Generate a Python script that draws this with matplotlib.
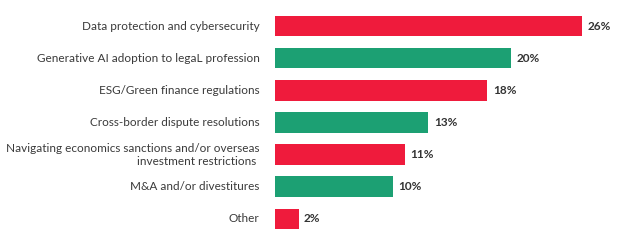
import matplotlib
matplotlib.use("Agg")
import matplotlib.pyplot as plt

categories = [
    "Data protection and cybersecurity",
    "Generative AI adoption to legaL profession",
    "ESG/Green finance regulations",
    "Cross-border dispute resolutions",
    "Navigating economics sanctions and/or overseas\ninvestment restrictions ",
    "M&A and/or divestitures",
    "Other",
]
values = [26, 20, 18, 13, 11, 10, 2]
value_labels = ["26%", "20%", "18%", "13%", "11%", "10%", "2%"]

red = "#EF1B3C"
green = "#1CA073"
colors = [red, green, red, green, red, green, red]

plt.rcParams["font.family"] = ["Lato", "DejaVu Sans"]

fig = plt.figure(figsize=(6.22, 2.44), dpi=100)
ax = fig.add_axes([275 / 622, 0, 1 - 275 / 622, 1])

y = list(range(len(values)))
ax.barh(y, values, height=0.64, color=colors, edgecolor="none")

for yi, v, lab in zip(y, values, value_labels):
    ax.text(v + 0.45, yi, lab, va="center", ha="left", fontsize=8.5,
            fontweight="bold", color="#333333")

for yi, cat in zip(y, categories):
    ax.text(-1.3, yi, cat, va="center", ha="right", fontsize=8.5,
            color="#3a3a3a", linespacing=1.25, multialignment="right")

ax.set_xlim(0, 29.4)
ax.set_ylim(6.78, -0.81)
ax.axis("off")

fig.savefig("out.png", dpi=100)
